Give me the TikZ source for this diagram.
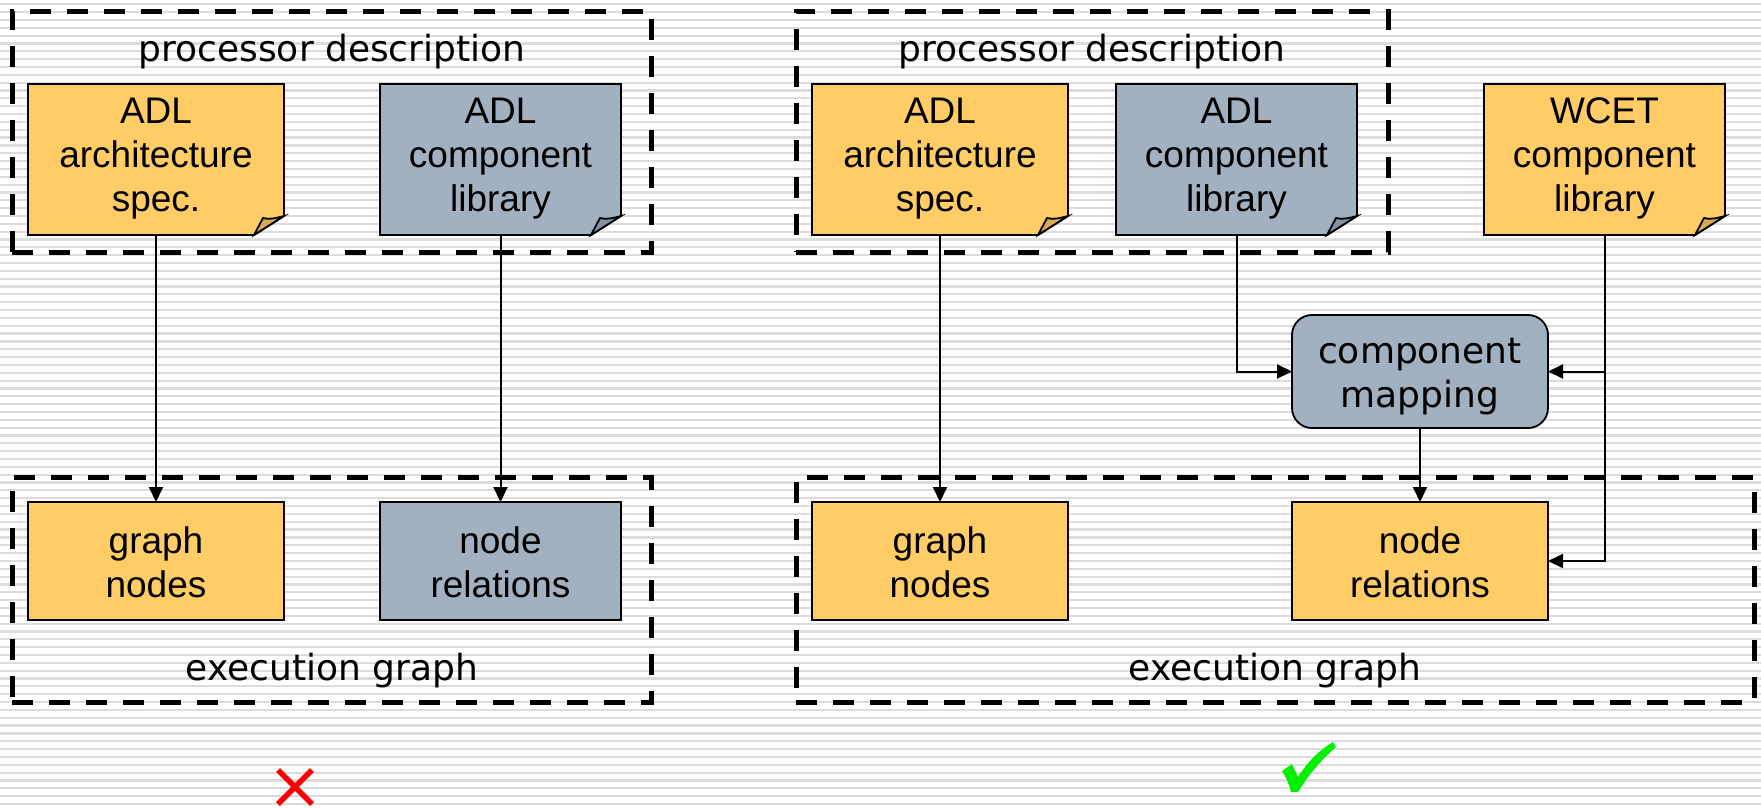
\documentclass[tikz,border=0pt]{standalone}
\usepackage{fontspec}
\setmainfont{Liberation Sans}
\newfontfamily\verd{DejaVu Sans}
\usetikzlibrary{arrows.meta,calc}
\pgfdeclarelayer{bg}
\pgfsetlayers{bg,main}
\definecolor{noteorange}{HTML}{FFCC66}
\definecolor{notegray}{HTML}{A2B1C0}
\definecolor{foldorange}{HTML}{D9AA55}
\definecolor{foldgray}{HTML}{8593A2}
\definecolor{stripe}{HTML}{DCDCDC}
\definecolor{okgreen}{HTML}{00F000}
\tikzset{
  shapebox/.style={draw=none, fill=none, inner sep=0pt, outer sep=0pt},
  rectbox/.style={draw=black, line width=1.8pt, inner sep=0pt, outer sep=0pt},
  outline/.style={draw=black, line width=1.8pt, line join=miter},
  txt/.style={font=\fontsize{37}{44}\selectfont, align=center, anchor=base, inner sep=0pt},
  vtxt/.style={font=\verd\fontsize{36}{44}\selectfont, align=center, anchor=base, inner sep=0pt},
  lbl/.style={font=\verd\fontsize{36}{44}\selectfont, anchor=base, inner sep=0pt},
  group/.style={draw=black, line width=5pt, dash pattern=on 21pt off 16pt, inner sep=0pt, outer sep=0pt},
  conn/.style={draw=black, line width=2pt, -{Triangle[length=15pt,width=14pt]}},
}
\newcommand\notefold[3]{%
  \begin{pgfonlayer}{bg}
  \filldraw[fill=#2, outline] (#1.north west) -- (#1.north east) -- ($(#1.south east)+(0,-19)$) -- ($(#1.south east)+(-30,0)$) -- (#1.south west) -- cycle;
  \filldraw[fill=#3, outline] ($(#1.south east)+(-30,0)$) -- ($(#1.south east)+(-21,-17)$) .. controls ($(#1.south east)+(-15,-15)$) and ($(#1.south east)+(-8,-17)$) .. ($(#1.south east)+(0,-19)$) -- cycle;
  \end{pgfonlayer}}
\begin{document}
\begin{tikzpicture}[x=1pt,y=-1pt]
\useasboundingbox (0,0) rectangle (1761,807);
\begin{pgfonlayer}{bg}
  \fill[white] (0,0) rectangle (1761,807);
  \foreach \i in {0,...,102} \draw[stripe, line width=2.2pt] (0,4.3+\i*7.84) -- (1761,4.3+\i*7.84);
\end{pgfonlayer}

% group boxes
\node[group, minimum width=639pt, minimum height=241pt] (pdL) at (331.5,131.5) {};
\node[group, minimum width=592pt, minimum height=241pt] (pdR) at (1092,131.5) {};
\node[group, minimum width=639pt, minimum height=225pt] (egL) at (331.5,589.5) {};
\node[group, minimum width=958pt, minimum height=225pt] (egR) at (1275,589.5) {};

\node[lbl] (pdLt) at (332,61) {processor description};
\node[lbl] (pdRt) at (1092,61) {processor description};
\node[lbl] (egLt) at (332,680) {execution graph};
\node[lbl] (egRt) at (1275,680) {execution graph};

% notes
\node[shapebox, minimum width=256pt, minimum height=151pt] (archL) at (156,159.5) {};
\node[shapebox, minimum width=241pt, minimum height=151pt] (libL) at (500.5,159.5) {};
\node[shapebox, minimum width=256pt, minimum height=151pt] (archR) at (940,159.5) {};
\node[shapebox, minimum width=241pt, minimum height=151pt] (libR) at (1236.5,159.5) {};
\node[shapebox, minimum width=241pt, minimum height=151pt] (wcet) at (1604.5,159.5) {};
\notefold{archL}{noteorange}{foldorange}
\notefold{libL}{notegray}{foldgray}
\notefold{archR}{noteorange}{foldorange}
\notefold{libR}{notegray}{foldgray}
\notefold{wcet}{noteorange}{foldorange}
\node[txt] (archLt) at ($(archL.north)+(0,127)$) {ADL\\architecture\\spec.};
\node[txt] (libLt) at ($(libL.north)+(0,127)$) {ADL\\component\\library};
\node[txt] (archRt) at ($(archR.north)+(0,127)$) {ADL\\architecture\\spec.};
\node[txt] (libRt) at ($(libR.north)+(0,127)$) {ADL\\component\\library};
\node[txt] (wcett) at ($(wcet.north)+(0,127)$) {WCET\\component\\library};

% bottom boxes
\node[rectbox, fill=noteorange, minimum width=256pt, minimum height=118pt] (gnL) at (156,561) {};
\node[rectbox, fill=notegray, minimum width=241pt, minimum height=118pt] (nrL) at (500.5,561) {};
\node[rectbox, fill=noteorange, minimum width=256pt, minimum height=118pt] (gnR) at (940,561) {};
\node[rectbox, fill=noteorange, minimum width=256pt, minimum height=118pt] (nrR) at (1420,561) {};
\node[txt] (gnLt) at ($(gnL.north)+(0,95)$) {graph\\nodes};
\node[txt] (nrLt) at ($(nrL.north)+(0,95)$) {node\\relations};
\node[txt] (gnRt) at ($(gnR.north)+(0,95)$) {graph\\nodes};
\node[txt] (nrRt) at ($(nrR.north)+(0,95)$) {node\\relations};

% component mapping
\node[rectbox, fill=notegray, rounded corners=20pt, minimum width=256pt, minimum height=113pt] (cm) at (1420,371.5) {};
\node[vtxt] (cmt) at ($(cm.north)+(0,92)$) {component\\mapping};

% connectors
\draw[conn] (archL.south) -- (gnL.north);
\draw[conn] (libL.south) -- (nrL.north);
\draw[conn] (archR.south) -- (gnR.north);
\draw[conn] (libR.south) |- (cm.west);
\draw[conn] (wcet.south) |- (nrR.east);
\coordinate (br) at (wcet.south |- cm.east);
\draw[conn] (br) -- (cm.east);
\draw[conn] (cm.south) -- (nrR.north);

% marks
\draw[red, line width=5.5pt] (278,770) -- (312,804) (312,770) -- (278,804);
\fill[okgreen] (1282,771) -- (1292,764) -- (1298,777) .. controls (1308,761) and (1320,750) .. (1333,742) -- (1336,747) .. controls (1323,758) and (1309,774) .. (1298,792) -- (1291,792) .. controls (1289,784) and (1286,777) .. cycle;
\end{tikzpicture}
\end{document}
